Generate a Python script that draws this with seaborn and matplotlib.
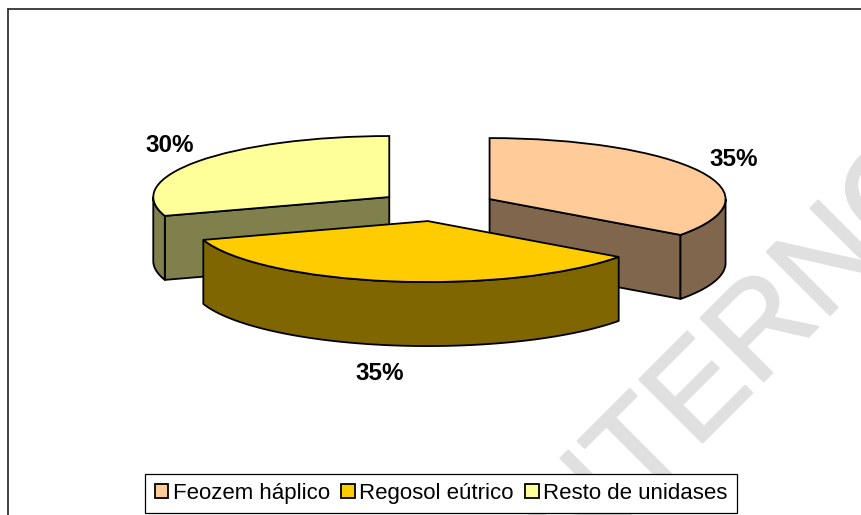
import numpy as np
import matplotlib
matplotlib.use("Agg")
import matplotlib.pyplot as plt
import matplotlib.patheffects as pe
from matplotlib.patches import Patch
from matplotlib.lines import Line2D
import seaborn as sns

categories = ["Feozem háplico", "Regosol eútrico", "Resto de unidases"]
values = [35, 35, 30]
top_colors = ["#FFCC99", "#FFCC00", "#FFFF99"]

W, H = 861, 515
RX, RY, CX, CY = 236.0, 61.0, 437.0, 206.0   # pixel scale of the tilted pie
DEPTH = 64.0 / RY
LW = 1.3

sns.set_theme(style="white")
plt.rcParams["font.family"] = ["Liberation Sans", "DejaVu Sans"]
palette = sns.color_palette(top_colors)
side_colors = [tuple(c * 0.5 for c in col) for col in palette]

fig = plt.figure(figsize=(W / 100, H / 100), dpi=100, facecolor="white")
ax = fig.add_axes([0, 0, 1, 1], zorder=2)


def fx(px):
    return px / W


def fy(py):
    return 1 - py / H


# watermark, running off the picture in the reference as well
fig.text(fx(547), fy(598), "INTERNO", rotation=45, rotation_mode="anchor",
         ha="left", va="baseline", fontsize=93.5, color="#e0e0e0", zorder=0,
         path_effects=[pe.withStroke(linewidth=1.5, foreground="#e0e0e0")])

wedges, _, autotexts = ax.pie(
    values, explode=[0.25] * 3, startangle=90, counterclock=False,
    colors=palette, autopct="%.0f%%",
    wedgeprops=dict(edgecolor="black", linewidth=LW),
)
ax.set_aspect("auto")
ax.set_xlim((0 - CX) / RX, (W - CX) / RX)
ax.set_ylim((CY - H) / RY, CY / RY)
ax.axis("off")
ax.patch.set_alpha(0)

depth_order = {0: 2, 2: 2, 1: 4}
for i, w in enumerate(wedges):
    z = depth_order[i]
    w.set_zorder(z + 0.5)
    cx, cy = w.center
    for th, normal in ((w.theta1, w.theta1 - 90), (w.theta2, w.theta2 + 90)):
        if np.sin(np.radians(normal)) < -1e-6:
            rx, ry = cx + np.cos(np.radians(th)), cy + np.sin(np.radians(th))
            ax.fill([cx, rx, rx, cx], [cy, ry, ry - DEPTH, cy - DEPTH],
                    facecolor=side_colors[i], edgecolor="black", linewidth=LW,
                    zorder=z, joinstyle="round")
    th = np.linspace(w.theta1, w.theta2, 300)
    th = th[np.sin(np.radians(th)) < 0]
    if th.size:
        xa = cx + np.cos(np.radians(th))
        ya = cy + np.sin(np.radians(th))
        ax.fill(np.r_[xa, xa[::-1]], np.r_[ya, ya[::-1] - DEPTH],
                facecolor=side_colors[i], edgecolor="black", linewidth=LW,
                zorder=z + 0.2, joinstyle="round")

label_px = [(734, 160), (380, 373), (170, 145)]
for t, (px, py) in zip(autotexts, label_px):
    t.set_transform(fig.transFigure)
    t.set_position((fx(px), fy(py)))
    t.set_fontsize(17.5)
    t.set_fontweight("bold")
    t.set_color("black")
    t.set_ha("center")
    t.set_va("center")
    t.set_zorder(6)

# outer chart-area border: only the top and left edges are inside the picture
border = dict(color="#333333", linewidth=1.3, transform=fig.transFigure, zorder=3)
fig.add_artist(Line2D([fx(8), fx(8)], [fy(9), 0], **border))
fig.add_artist(Line2D([fx(8), 1], [fy(9), fy(9)], **border))

handles = [Patch(facecolor=c, edgecolor="black", linewidth=1.3) for c in palette]
leg = fig.legend(
    handles, categories, ncol=3, loc="center",
    bbox_to_anchor=(fx(441), fy(493.5)), frameon=True, fancybox=False,
    edgecolor="black", facecolor="white", framealpha=1, fontsize=16,
    handlelength=0.62, handleheight=0.62, handletextpad=0.2, columnspacing=0.5,
    borderpad=0.42, labelcolor="black",
)
leg.get_frame().set_linewidth(0.9)
leg.set_zorder(7)

fig.savefig("out.png", dpi=100, facecolor="white")
